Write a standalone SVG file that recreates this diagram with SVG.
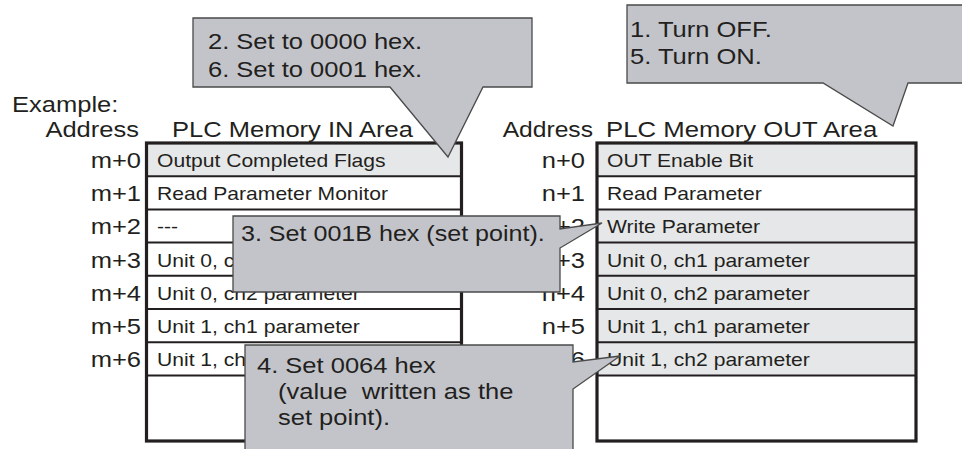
<svg xmlns="http://www.w3.org/2000/svg" width="962" height="449" viewBox="0 0 962 449">
<style>
  text { font-family: "Liberation Sans", Arial, sans-serif; fill: #231f20; white-space: pre; }
  .lg { font-size: 22px; }
  .sm { font-size: 18.2px; }
  .end { text-anchor: end; }
  .tbl { fill: none; stroke: #231f20; stroke-width: 3.2; }
  .sep { stroke: #231f20; stroke-width: 2; }
  .shade { fill: #e6e7e8; }
  .call { fill: #c2c4ca; stroke: #4a4a4a; stroke-width: 1.3; stroke-linejoin: miter; }
</style>
<rect width="962" height="449" fill="#ffffff"/>

<g id="header">
  <text class="lg" transform="translate(12,112) scale(1.16,1)">Example:</text>
  <text class="lg end" transform="translate(139,137) scale(1.16,1)">Address</text>
  <text class="lg" transform="translate(172,137) scale(1.16,1)">PLC Memory IN Area</text>
  <text class="lg end" transform="translate(593,137) scale(1.12,1)">Address</text>
  <text class="lg" transform="translate(606,137) scale(1.17,1)">PLC Memory OUT Area</text>
</g>

<g id="in-area">
  <rect x="146.5" y="143" width="315" height="298" fill="#ffffff"/>
  <rect class="shade" x="146.5" y="143" width="315" height="33.2"/>
  <line class="sep" x1="146" y1="176.2" x2="462" y2="176.2"/>
  <line class="sep" x1="146" y1="209.4" x2="462" y2="209.4"/>
  <line class="sep" x1="146" y1="242.6" x2="462" y2="242.6"/>
  <line class="sep" x1="146" y1="275.8" x2="462" y2="275.8"/>
  <line class="sep" x1="146" y1="309" x2="462" y2="309"/>
  <line class="sep" x1="146" y1="342.2" x2="462" y2="342.2"/>
  <line class="sep" x1="146" y1="375.4" x2="462" y2="375.4"/>
  <rect class="tbl" x="146.5" y="143" width="315" height="298"/>
  <text class="sm" transform="translate(157,167) scale(1.16,1)">Output Completed Flags</text>
  <text class="sm" transform="translate(157,200.2) scale(1.16,1)">Read Parameter Monitor</text>
  <text class="sm" transform="translate(157,233.4) scale(1.16,1)">---</text>
  <text class="sm" transform="translate(157,266.6) scale(1.16,1)">Unit 0, ch1 parameter</text>
  <text class="sm" transform="translate(157,299.8) scale(1.16,1)">Unit 0, ch2 parameter</text>
  <text class="sm" transform="translate(157,333) scale(1.16,1)">Unit 1, ch1 parameter</text>
  <text class="sm" transform="translate(157,366.2) scale(1.16,1)">Unit 1, ch2 parameter</text>
  <text class="lg end" transform="translate(141,168) scale(1.16,1)">m+0</text>
  <text class="lg end" transform="translate(141,201.2) scale(1.16,1)">m+1</text>
  <text class="lg end" transform="translate(141,234.4) scale(1.16,1)">m+2</text>
  <text class="lg end" transform="translate(141,267.6) scale(1.16,1)">m+3</text>
  <text class="lg end" transform="translate(141,300.8) scale(1.16,1)">m+4</text>
  <text class="lg end" transform="translate(141,334) scale(1.16,1)">m+5</text>
  <text class="lg end" transform="translate(141,367.2) scale(1.16,1)">m+6</text>
</g>

<g id="out-area">
  <rect x="597" y="143" width="319" height="298" fill="#ffffff"/>
  <rect class="shade" x="597" y="143" width="319" height="33.2"/>
  <rect class="shade" x="597" y="209.4" width="319" height="166"/>
  <line class="sep" x1="596" y1="176.2" x2="916" y2="176.2"/>
  <line class="sep" x1="596" y1="209.4" x2="916" y2="209.4"/>
  <line class="sep" x1="596" y1="242.6" x2="916" y2="242.6"/>
  <line class="sep" x1="596" y1="275.8" x2="916" y2="275.8"/>
  <line class="sep" x1="596" y1="309" x2="916" y2="309"/>
  <line class="sep" x1="596" y1="342.2" x2="916" y2="342.2"/>
  <line class="sep" x1="596" y1="375.4" x2="916" y2="375.4"/>
  <rect class="tbl" x="597" y="143" width="319" height="298"/>
  <text class="sm" transform="translate(607,167) scale(1.16,1)">OUT Enable Bit</text>
  <text class="sm" transform="translate(607,200.2) scale(1.16,1)">Read Parameter</text>
  <text class="sm" transform="translate(607,233.4) scale(1.16,1)">Write Parameter</text>
  <text class="sm" transform="translate(607,266.6) scale(1.16,1)">Unit 0, ch1 parameter</text>
  <text class="sm" transform="translate(607,299.8) scale(1.16,1)">Unit 0, ch2 parameter</text>
  <text class="sm" transform="translate(607,333) scale(1.16,1)">Unit 1, ch1 parameter</text>
  <text class="sm" transform="translate(607,366.2) scale(1.16,1)">Unit 1, ch2 parameter</text>
  <text class="lg end" transform="translate(585,168) scale(1.16,1)">n+0</text>
  <text class="lg end" transform="translate(585,201.2) scale(1.16,1)">n+1</text>
  <text class="lg end" transform="translate(585,234.4) scale(1.16,1)">n+2</text>
  <text class="lg end" transform="translate(585,267.6) scale(1.16,1)">n+3</text>
  <text class="lg end" transform="translate(585,300.8) scale(1.16,1)">n+4</text>
  <text class="lg end" transform="translate(585,334) scale(1.16,1)">n+5</text>
  <text class="lg end" transform="translate(585,367.2) scale(1.16,1)">n+6</text>
</g>

<g id="callout-2">
  <path class="call" d="M193,18 H532 V87 H483 L448,157 L390,87 H193 Z"/>
  <text class="lg" transform="translate(208,49) scale(1.16,1)">2. Set to 0000 hex.</text>
  <text class="lg" transform="translate(208,77) scale(1.16,1)">6. Set to 0001 hex.</text>
</g>

<g id="callout-1">
  <path class="call" d="M627,5 H968 V83 H908 L893,126 L823,83 H627 Z"/>
  <text class="lg" transform="translate(630,37) scale(1.16,1)">1. Turn OFF.</text>
  <text class="lg" transform="translate(630,64) scale(1.16,1)">5. Turn ON.</text>
</g>

<g id="callout-3">
  <path class="call" d="M233,216 H560 V229 L602,223 L560,248 V292 H233 Z"/>
  <text class="lg" transform="translate(241,241) scale(1.14,1)">3. Set 001B hex (set point).</text>
</g>

<g id="callout-4">
  <path class="call" d="M245,345 H573 V362 L620,356 L573,389 V455 H245 Z"/>
  <text class="lg" transform="translate(257,373) scale(1.16,1)">4. Set 0064 hex</text>
  <text class="lg" transform="translate(278,399) scale(1.16,1)">(value  written as the</text>
  <text class="lg" transform="translate(278,425) scale(1.16,1)">set point).</text>
</g>
</svg>
